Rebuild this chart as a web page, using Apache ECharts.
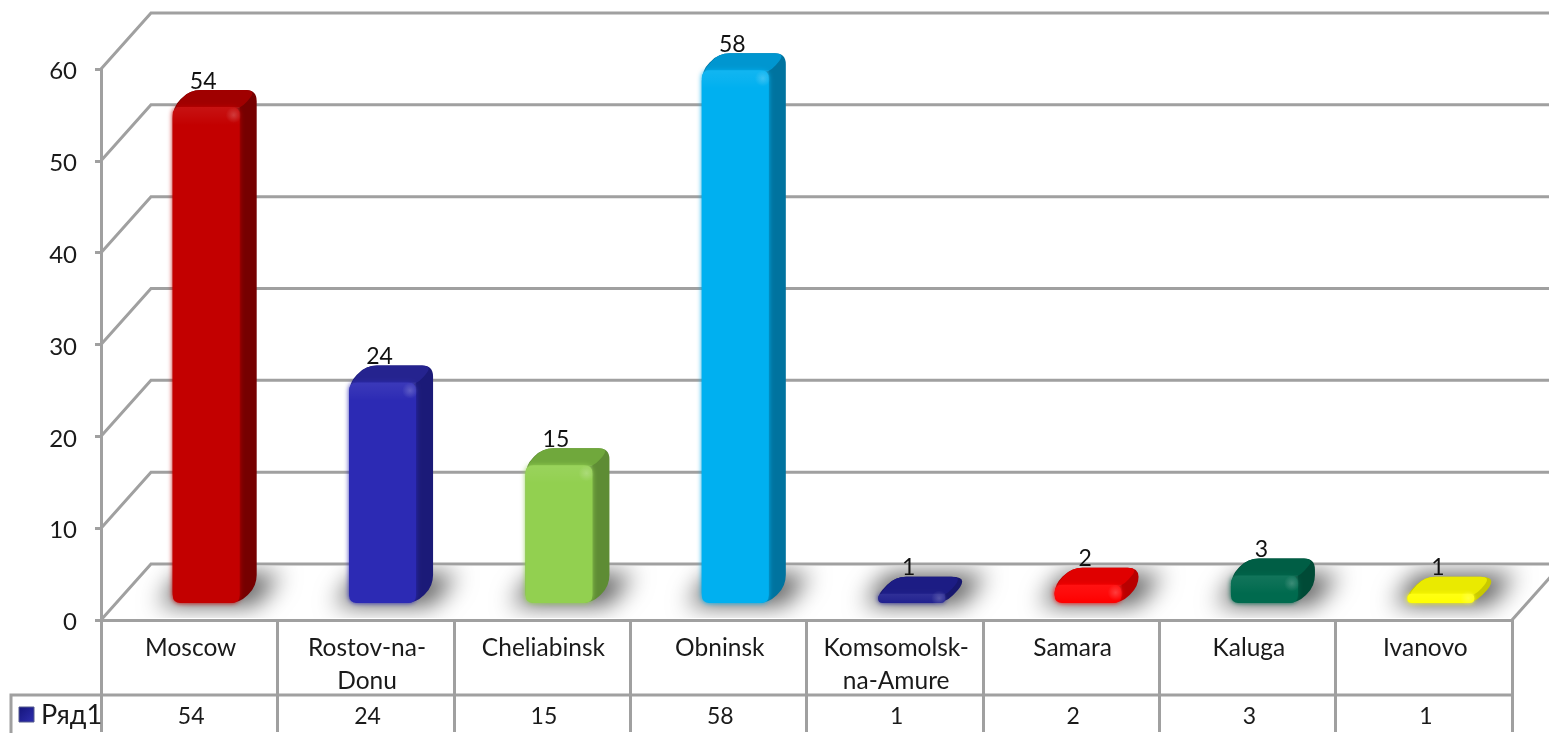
<!DOCTYPE html>
<html lang="ru">
<head>
  <meta charset="utf-8">
  <style>
    html,body { margin:0; padding:0; width:100%; height:100%; overflow:hidden; background:#fff; }
  </style>
  <script src="https://cdn.jsdelivr.net/npm/echarts@6/dist/echarts.min.js"></script>
</head>
<body>
  <div id="container" style="width:1549px;height:733px;"></div>
  <script>
    const categories = ['Moscow', 'Rostov-na-\nDonu', 'Cheliabinsk', 'Obninsk', 'Komsomolsk-\nna-Amure', 'Samara', 'Kaluga', 'Ivanovo'];
    const values = [54, 24, 15, 58, 1, 2, 3, 1];
    const yTicks = [0, 10, 20, 30, 40, 50, 60];
    const frontColors = ['#c30000', '#2c2ab4', '#92d050', '#00b0f0', '#20208f', '#ff0000', '#006a4e', '#ffff00'];
    const topColors = ['#a00000', '#25238f', '#70a83c', '#0096d0', '#1c1c84', '#e00000', '#005e45', '#eaea00'];
    const sideColors = ['#760000', '#1b1a78', '#5e8c34', '#00739f', '#17176e', '#b80000', '#004a36', '#c8c800'];
    const seriesName = 'Ряд1';

    const FONT = 'Lato, "Noto Sans", sans-serif';
    const LINE = '#a0a0a0';
    const WALL_DX = 50, WALL_DY = 56;
    const DEPTH = 17, BAR_W = 67;
    const OFFSCREEN = 4000;

    // polygon -> svg path with rounded corners
    function roundPoly(pts, r) {
      let d = '';
      for (let i = 0; i < pts.length; i++) {
        const p = pts[i], a = pts[(i + pts.length - 1) % pts.length], b = pts[(i + 1) % pts.length];
        const la = Math.hypot(a[0] - p[0], a[1] - p[1]), lb = Math.hypot(b[0] - p[0], b[1] - p[1]);
        const ra = Math.min(r, la / 2), rb = Math.min(r, lb / 2);
        const s = [p[0] + (a[0] - p[0]) * ra / la, p[1] + (a[1] - p[1]) * ra / la];
        const e = [p[0] + (b[0] - p[0]) * rb / lb, p[1] + (b[1] - p[1]) * rb / lb];
        d += (i ? 'L' : 'M') + s[0] + ' ' + s[1] + 'Q' + p[0] + ' ' + p[1] + ' ' + e[0] + ' ' + e[1];
      }
      return d + 'Z';
    }

    function renderWall(params, api) {
      const v = api.value(1);
      const band = api.size([1, 0])[0];
      const c = api.coord([0, v]);
      const x0 = c[0] - band / 2, y = c[1];
      const style = { stroke: LINE, lineWidth: 3, fill: 'none' };
      const children = [{
        type: 'polyline',
        shape: { points: [[x0, y], [x0 + WALL_DX, y - WALL_DY], [x0 + band * 8 + WALL_DX, y - WALL_DY]] },
        style: style
      }];
      if (v === 0) {
        children.push({
          type: 'line',
          shape: { x1: x0 + band * 8, y1: y, x2: x0 + band * 8 + WALL_DX, y2: y - WALL_DY },
          style: style
        });
      }
      return { type: 'group', children: children };
    }

    // only the blur of the footprint shows: the shape itself sits off the canvas
    function renderShadow(params, api) {
      const c = api.coord([api.value(0), 0]);
      const band = api.size([1, 0])[0];
      const x0 = c[0] + DEPTH - BAR_W / 2, x1 = x0 + BAR_W, yB = c[1] - DEPTH;
      const left = c[0] - band / 2;
      const m = OFFSCREEN;
      return {
        type: 'group',
        clipPath: {
          type: 'rect',
          shape: { x: left - 40, y: c[1] - WALL_DY + 2, width: band + 120, height: WALL_DY - 4 }
        },
        children: [{
          type: 'polygon',
          shape: { points: [[x0 - 14 - m, yB + 2], [x1 + 16 - m, yB + 2], [x1 + DEPTH + 24 - m, yB - DEPTH - 12], [x0 + DEPTH - 8 - m, yB - DEPTH - 12]] },
          style: { fill: '#000', shadowColor: '#585858', shadowBlur: 24, shadowOffsetX: m, shadowOffsetY: 0 }
        }]
      };
    }

    function renderBar(params, api) {
      const i = api.value(0), v = api.value(1);
      const base = api.coord([i, 0]), top = api.coord([i, v]);
      const x0 = base[0] + DEPTH - BAR_W / 2, x1 = x0 + BAR_W;
      const yB = base[1] - DEPTH, yT = top[1] - DEPTH;
      const d = DEPTH;
      const h = yB - yT;
      const outline = [[x0, yB], [x1, yB], [x1 + d, yB - d], [x1 + d, yT - d], [x0 + d, yT - d], [x0, yT]];
      const topFace = [[x0 - 1, yT + 3], [x1, yT + 3], [x1 + d, yT - d], [x0 + d, yT - d]];
      const front = [[x0, yB], [x1, yB], [x1, yT], [x0, yT]];
      const bevel = Math.min(18, h);
      const children = [
        { type: 'path', shape: { pathData: roundPoly(outline, 11) }, style: { fill: sideColors[i] } },
        { type: 'path', shape: { pathData: roundPoly(topFace, 11) }, style: { fill: topColors[i] } },
        {
          type: 'path',
          shape: { pathData: roundPoly(front, Math.min(8, h / 2)) },
          style: { fill: frontColors[i], shadowColor: frontColors[i], shadowBlur: 5 }
        },
        {
          type: 'rect',
          shape: { x: x0, y: yT, width: BAR_W, height: bevel },
          style: {
            fill: {
              type: 'linear', x: 0, y: 0, x2: 0, y2: 1,
              colorStops: [
                { offset: 0, color: 'rgba(255,255,255,0.07)' },
                { offset: 0.5, color: 'rgba(255,255,255,0.04)' },
                { offset: 1, color: 'rgba(255,255,255,0)' }
              ]
            }
          }
        },
        {
          type: 'circle',
          shape: { cx: x1 - 6, cy: yT + Math.min(8, h / 2), r: 8 },
          style: {
            fill: {
              type: 'radial', x: 0.5, y: 0.5, r: 0.5,
              colorStops: [
                { offset: 0, color: 'rgba(255,255,255,0.2)' },
                { offset: 1, color: 'rgba(255,255,255,0)' }
              ]
            }
          }
        },
        {
          type: 'text',
          x: (x0 + x1) / 2 - 3,
          y: yT - d - 9,
          style: { text: String(v), fill: '#111', fontSize: 23, fontFamily: FONT, align: 'center', verticalAlign: 'middle' }
        }
      ];
      return { type: 'group', children: children };
    }

    const chart = echarts.init(document.getElementById('container'), null, { renderer: 'canvas' });

    chart.setOption({
      animation: false,
      backgroundColor: '#fff',
      grid: { left: 101, right: 37, top: 69, bottom: 112 },
      xAxis: [{
        type: 'category',
        data: categories,
        boundaryGap: true,
        axisLine: { show: true, onZero: false, lineStyle: { color: LINE, width: 3 } },
        axisTick: { show: true, length: 112, alignWithLabel: false, lineStyle: { color: LINE, width: 3 } },
        axisLabel: { interval: 0, margin: 12, color: '#1a1a1a', fontSize: 24.5, fontFamily: FONT, lineHeight: 33, verticalAlign: 'top', padding: [0, 0, 0, 3] }
      }, {
        type: 'category',
        position: 'bottom',
        offset: 74,
        data: values.map(String),
        axisLine: { show: false },
        axisTick: { show: false },
        axisLabel: { interval: 0, margin: 7, color: '#1a1a1a', fontSize: 23, fontFamily: FONT, lineHeight: 32, verticalAlign: 'top', padding: [0, 0, 0, 4] }
      }],
      yAxis: {
        type: 'value',
        min: 0,
        max: 60,
        interval: 10,
        axisLine: { show: true, lineStyle: { color: LINE, width: 3 } },
        axisTick: { show: true, length: 6, lineStyle: { color: LINE, width: 3 } },
        splitLine: { show: false },
        axisLabel: { margin: 24, color: '#1a1a1a', fontSize: 24, fontFamily: FONT, verticalAlign: 'top', lineHeight: 5 }
      },
      series: [
        { type: 'custom', name: 'wall', z: 1, silent: true, clip: false, renderItem: renderWall, encode: { x: 0, y: 1 }, data: yTicks.map(function (t) { return [0, t]; }) },
        { type: 'custom', name: 'shadow', z: 2, silent: true, clip: false, renderItem: renderShadow, encode: { x: 0, y: 1 }, data: values.map(function (v, i) { return [i, v]; }) },
        { type: 'custom', name: seriesName, z: 3, clip: false, renderItem: renderBar, encode: { x: 0, y: 1 }, data: values.map(function (v, i) { return [i, v]; }) }
      ],
      graphic: [
        { type: 'polyline', z: 5, shape: { points: [[11, 733], [11, 695], [1512, 695]] }, style: { stroke: LINE, lineWidth: 3, fill: 'none' } },
        {
          type: 'rect', z: 5,
          shape: { x: 19, y: 707, width: 15, height: 15 },
          style: {
            stroke: '#555a8c', lineWidth: 1,
            fill: { type: 'linear', x: 0, y: 0, x2: 1, y2: 1, colorStops: [{ offset: 0, color: '#14147a' }, { offset: 1, color: '#2f2fb0' }] }
          }
        },
        { type: 'text', z: 5, x: 41, y: 715, style: { text: seriesName, fill: '#1a1a1a', fontSize: 27, fontFamily: FONT, verticalAlign: 'middle' } }
      ]
    });
  </script>
</body>
</html>
